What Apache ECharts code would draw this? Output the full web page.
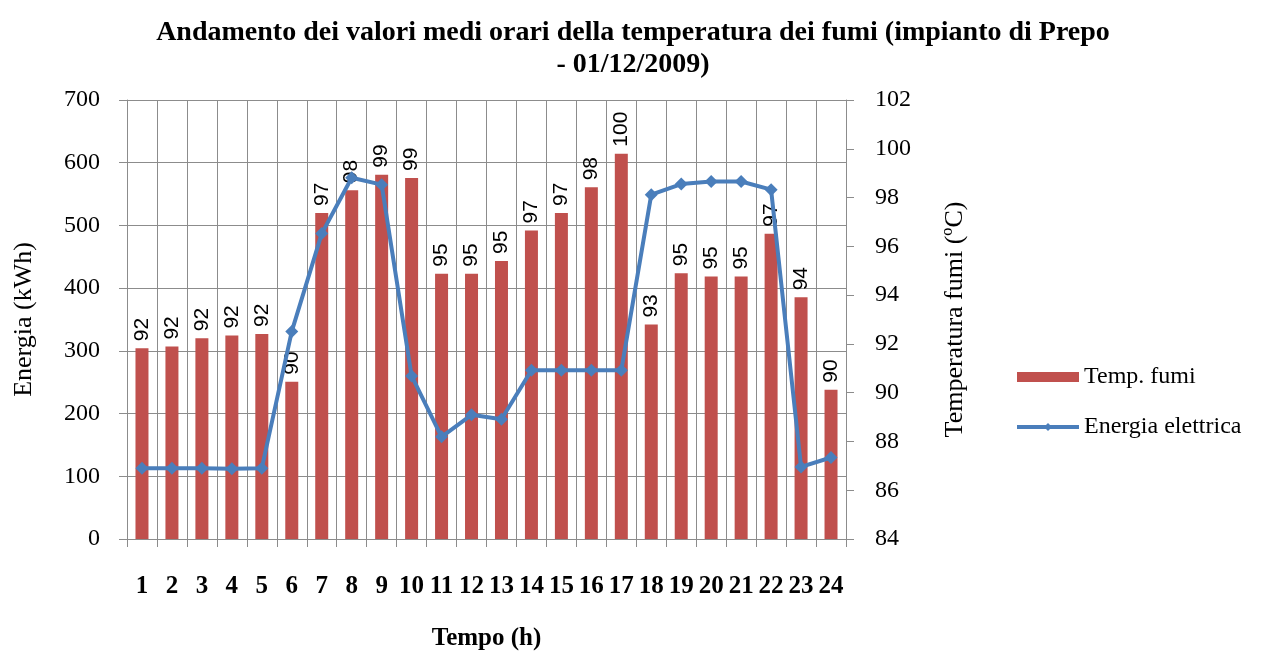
<!DOCTYPE html>
<html>
<head>
<meta charset="utf-8">
<script src="https://cdn.jsdelivr.net/npm/echarts@6/dist/echarts.min.js"></script>
<style>
  html, body { margin: 0; padding: 0; background: #fff; }
  #chart { width: 1268px; height: 656px; }
</style>
</head>
<body>
<div id="chart"></div>
<script>
// Hours of the day (1..24)
const hours = ['1','2','3','4','5','6','7','8','9','10','11','12','13','14','15','16','17','18','19','20','21','22','23','24'];

// Mean hourly flue-gas temperature (ºC)
const tempFumi = [91.82, 91.89, 92.23, 92.34, 92.41, 90.45, 97.37, 98.30, 98.94, 98.80, 94.88, 94.88,
                  95.40, 96.65, 97.37, 98.42, 99.80, 92.79, 94.90, 94.76, 94.76, 96.52, 93.91, 90.12];

// Hourly electrical energy (kWh)
const energiaElettrica = [113, 113, 113, 112, 113, 331, 487, 576, 565, 260, 163, 198,
                          191, 269, 269, 269, 269, 549, 566, 570, 570, 557, 115, 130];

// Axis ranges
const energyAxis = { min: 0, max: 700, interval: 100 };
const tempAxis = { min: 84, max: 102, interval: 2 };

const serif = "'Liberation Serif', 'Times New Roman', serif";
const gridColor = '#8c8c8c';
const barColor = '#c0504d';
const lineColor = '#4a7ebb';

const chart = echarts.init(document.getElementById('chart'), null, { renderer: 'canvas' });

chart.setOption({
  animation: false,
  backgroundColor: '#ffffff',
  title: {
    text: 'Andamento dei valori medi orari della temperatura dei fumi (impianto di Prepo\n- 01/12/2009)',
    left: 628,
    top: 12,
    textAlign: 'center',
    textStyle: {
      fontFamily: serif,
      fontWeight: 'bold',
      fontSize: 28,
      lineHeight: 32,
      color: '#000'
    }
  },
  legend: {
    orient: 'vertical',
    left: 1010,
    top: 360,
    itemWidth: 62,
    itemHeight: 10,
    itemGap: 26,
    data: [
      { name: 'Temp. fumi', icon: 'rect' },
      { name: 'Energia elettrica', lineStyle: { width: 4, color: lineColor } }
    ],
    textStyle: { fontFamily: serif, fontSize: 24, color: '#000' }
  },
  grid: { left: 127, right: 422, top: 100, bottom: 115 },
  xAxis: {
    type: 'category',
    data: hours,
    boundaryGap: true,
    name: 'Tempo (h)',
    nameLocation: 'middle',
    nameGap: 87,
    nameTextStyle: { fontFamily: serif, fontWeight: 'bold', fontSize: 25, color: '#000' },
    axisLine: { lineStyle: { color: gridColor, width: 1 } },
    axisTick: { show: true, length: 8, alignWithLabel: false, lineStyle: { color: gridColor } },
    axisLabel: { margin: 35, interval: 0, fontFamily: serif, fontWeight: 'bold', fontSize: 25, color: '#000' },
    splitLine: { show: true, lineStyle: { color: gridColor, width: 1 } }
  },
  yAxis: [
    {
      type: 'value',
      position: 'left',
      min: energyAxis.min,
      max: energyAxis.max,
      interval: energyAxis.interval,
      name: 'Energia (kWh)',
      nameLocation: 'middle',
      nameRotate: 90,
      nameGap: 90,
      nameTextStyle: { fontFamily: serif, fontSize: 26, color: '#000' },
      axisLine: { show: true, lineStyle: { color: gridColor } },
      axisTick: { show: true, length: 8, lineStyle: { color: gridColor } },
      axisLabel: { margin: 27, fontFamily: serif, fontSize: 24, color: '#000' },
      splitLine: { show: true, lineStyle: { color: gridColor, width: 1 } }
    },
    {
      type: 'value',
      position: 'right',
      min: tempAxis.min,
      max: tempAxis.max,
      interval: tempAxis.interval,
      name: 'Temperatura fumi (ºC)',
      nameLocation: 'middle',
      nameRotate: 90,
      nameGap: 96,
      nameTextStyle: { fontFamily: serif, fontSize: 26, color: '#000' },
      axisLine: { show: true, lineStyle: { color: gridColor } },
      axisTick: { show: true, length: 8, lineStyle: { color: gridColor } },
      axisLabel: { margin: 29, fontFamily: serif, fontSize: 24, color: '#000' },
      splitLine: { show: false }
    }
  ],
  series: [
    {
      name: 'Temp. fumi',
      type: 'bar',
      yAxisIndex: 1,
      data: tempFumi,
      barWidth: 13,
      itemStyle: { color: barColor },
      label: {
        show: true,
        position: 'top',
        rotate: 90,
        align: 'left',
        verticalAlign: 'middle',
        distance: 7,
        fontFamily: "'Liberation Sans', Arial, sans-serif",
        fontSize: 21,
        color: '#000',
        formatter: p => Math.round(p.value).toString()
      },
      z: 2
    },
    {
      name: 'Energia elettrica',
      type: 'line',
      yAxisIndex: 0,
      data: energiaElettrica,
      symbol: 'diamond',
      symbolSize: 13,
      itemStyle: { color: lineColor },
      lineStyle: { color: lineColor, width: 4 },
      z: 3
    }
  ]
});
</script>
</body>
</html>
